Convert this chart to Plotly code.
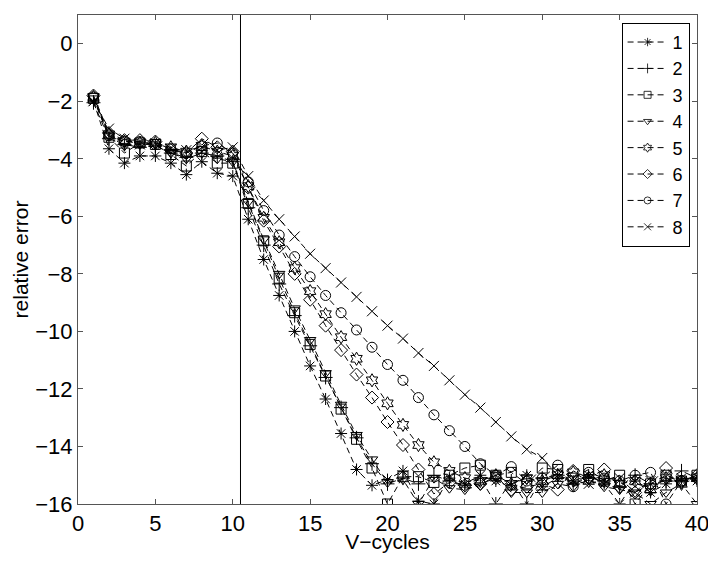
import plotly.graph_objects as go

# V-cycle convergence history: relative error (log10) per V-cycle, 8 runs
V_CYCLES = list(range(1, 41))
SERIES_NAMES = ["1", "2", "3", "4", "5", "6", "7", "8"]

ERR_1 = [-2.0, -3.65, -4.15, -3.9, -3.9, -4.15, -4.55, -4.1, -4.5, -4.6,
         -6.1, -7.5, -8.75, -10.0, -11.2, -12.35, -13.55, -14.8, -15.35, -15.15,
         -14.85, -15.9, -16.0, -15.1, -15.3, -15.0, -15.2, -15.35, -15.0, -15.4,
         -15.1, -15.2, -15.0, -15.3, -16.0, -15.2, -15.6, -15.3, -15.1, -15.2]
ERR_2 = [-2.05, -3.3, -3.5, -3.6, -3.55, -3.8, -3.95, -3.8, -3.9, -4.1,
         -5.7, -7.0, -8.35, -9.45, -10.5, -11.6, -12.65, -13.7, -14.6, -15.3,
         -15.1, -15.3, -15.0, -15.2, -15.35, -15.1, -16.0, -15.2, -16.0, -15.1,
         -15.0, -15.3, -15.1, -15.2, -15.4, -15.0, -15.3, -15.2, -14.85, -15.1]
ERR_3 = [-1.9, -3.25, -3.8, -3.45, -3.5, -3.85, -4.25, -3.75, -4.15, -4.15,
         -5.55, -6.85, -8.15, -9.35, -10.45, -11.55, -12.7, -13.75, -14.75, -16.0,
         -15.05, -15.05, -15.25, -15.0, -14.75, -14.65, -15.0, -14.9, -15.3, -14.75,
         -14.8, -15.1, -14.8, -15.2, -15.0, -16.0, -15.3, -15.0, -15.2, -15.0]
ERR_4 = [-1.9, -3.2, -3.55, -3.5, -3.5, -3.8, -4.0, -3.8, -4.0, -4.1,
         -5.5, -6.8, -8.0, -9.2, -10.3, -11.45, -12.55, -13.6, -14.45, -15.25,
         -15.15, -16.0, -15.1, -15.45, -15.5, -15.35, -15.0, -15.6, -15.6, -15.6,
         -15.3, -15.4, -15.15, -15.4, -15.5, -15.6, -16.0, -15.6, -15.3, -16.0]
ERR_5 = [-1.85, -3.15, -3.4, -3.45, -3.45, -3.6, -3.75, -3.55, -3.75, -3.9,
         -4.95, -6.05, -6.9, -7.8, -8.6, -9.4, -10.2, -10.95, -11.7, -12.5,
         -13.25, -13.95, -14.55, -14.85, -15.1, -15.2, -15.0, -15.3, -15.1, -15.2,
         -15.0, -14.9, -15.2, -15.0, -15.3, -15.2, -15.5, -15.1, -15.3, -15.1]
ERR_6 = [-1.8, -3.1, -3.35, -3.35, -3.4, -3.7, -3.8, -3.3, -3.6, -3.75,
         -5.0, -6.15, -7.05, -8.0, -8.9, -9.8, -10.65, -11.5, -12.3, -13.15,
         -13.95, -14.8, -15.65, -15.25, -15.35, -15.3, -15.1, -15.5, -15.4, -15.3,
         -15.5, -14.85, -15.1, -14.8, -15.4, -15.6, -15.3, -14.75, -15.2, -15.0]
ERR_7 = [-1.85, -3.2, -3.4, -3.4, -3.5, -3.65, -3.8, -3.55, -3.45, -3.8,
         -4.8, -5.8, -6.65, -7.4, -8.1, -8.75, -9.35, -9.95, -10.55, -11.15,
         -11.7, -12.3, -12.9, -13.45, -14.0, -14.6, -15.0, -14.7, -15.2, -15.1,
         -14.65, -15.4, -14.9, -15.1, -15.2, -15.0, -14.9, -16.0, -15.2, -15.1]
ERR_8 = [-2.0, -2.95, -3.3, -3.5, -3.45, -3.65, -3.7, -3.6, -3.7, -3.6,
         -4.6, -5.45, -6.1, -6.7, -7.3, -7.8, -8.3, -8.8, -9.3, -9.8,
         -10.25, -10.75, -11.2, -11.7, -12.2, -12.65, -13.15, -13.65, -14.1, -14.4,
         -15.0, -15.2, -15.3, -15.15, -15.1, -15.6, -15.2, -15.05, -15.2, -15.05]

ERRORS = [ERR_1, ERR_2, ERR_3, ERR_4, ERR_5, ERR_6, ERR_7, ERR_8]
SYMBOLS = ["asterisk-open", "cross-thin-open", "square-open", "triangle-down-open",
           "hexagram-open", "diamond-open", "circle-open", "x-thin-open"]
SWITCH_CYCLE = 10.5

FONT = "Liberation Sans, Arial, sans-serif"
DASH = "6px,4px"

fig = go.Figure()
for name, err, sym in zip(SERIES_NAMES, ERRORS, SYMBOLS):
    fig.add_trace(go.Scatter(
        x=V_CYCLES, y=err, name=name, mode="lines+markers", showlegend=False,
        line=dict(color="black", width=1, dash=DASH),
        marker=dict(symbol=sym, size=10, color="black",
                    line=dict(color="black", width=1)),
    ))

# legend-only entries with the small MATLAB-style marker
for name, sym in zip(SERIES_NAMES, SYMBOLS):
    fig.add_trace(go.Scatter(
        x=[None], y=[None], name=name, mode="lines+markers",
        line=dict(color="black", width=1, dash=DASH),
        marker=dict(symbol=sym, size=7, color="black",
                    line=dict(color="black", width=0.8)),
    ))

fig.add_shape(type="line", x0=SWITCH_CYCLE, x1=SWITCH_CYCLE, y0=-16, y1=1,
              xref="x", yref="y", line=dict(color="black", width=1))

axis_common = dict(showline=True, linecolor="#555555", linewidth=1, mirror="ticks",
                   ticks="inside", ticklen=5, tickcolor="#555555",
                   showgrid=False, zeroline=False, automargin=False,
                   ticklabeloverflow="allow",
                   tickfont=dict(family=FONT, size=22, color="black"))

fig.update_xaxes(range=[0, 40], tickvals=[0, 5, 10, 15, 20, 25, 30, 35, 40],
                 title=dict(text="V\u2212cycles", font=dict(family=FONT, size=21, color="black"),
                            standoff=2),
                 **axis_common)
fig.update_yaxes(range=[-16, 1], tickvals=list(range(0, -17, -2)),
                 title=dict(text="relative error", font=dict(family=FONT, size=21, color="black"),
                            standoff=0),
                 **axis_common)

# the page body adds an 8px margin, so the figure is sized to fit inside it
fig.update_layout(
    width=708, height=545,
    margin=dict(l=70, r=19, t=7, b=49),
    paper_bgcolor="white", plot_bgcolor="white",
    font=dict(family=FONT, size=21, color="black"),
    legend=dict(x=0.988, y=0.984, xanchor="right", yanchor="top",
                bgcolor="white", bordercolor="black", borderwidth=1,
                font=dict(family=FONT, size=18, color="black"),
                itemwidth=40, tracegroupgap=0),
)

fig.write_html("out.html")
